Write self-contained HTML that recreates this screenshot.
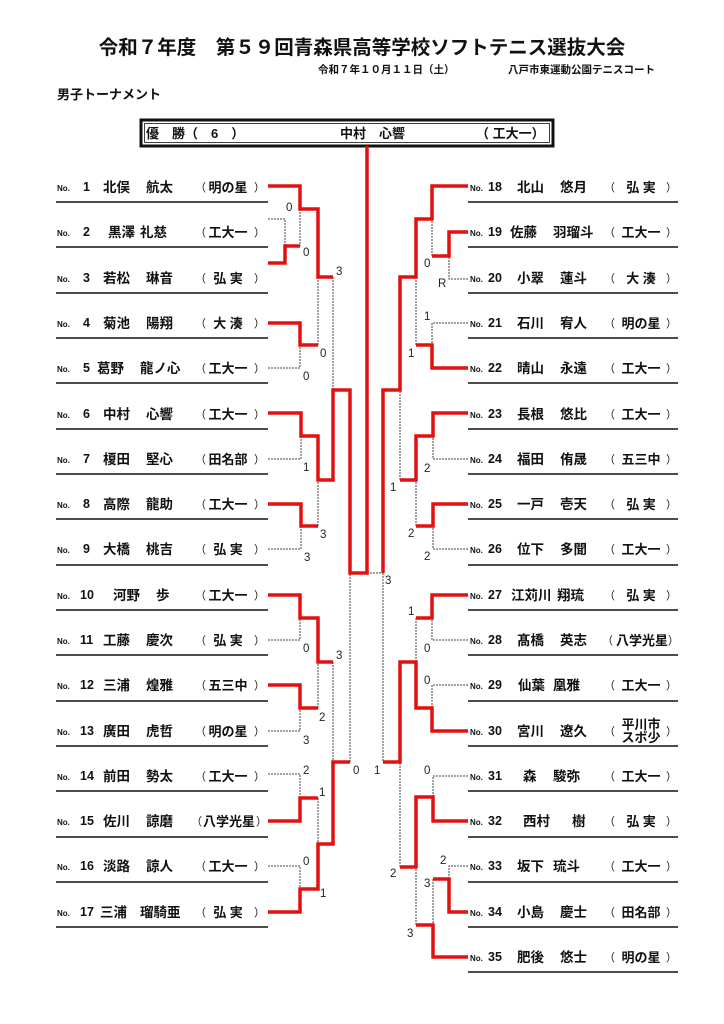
<!DOCTYPE html>
<html><head><meta charset="utf-8"><style>
html,body{margin:0;padding:0;background:#fff;}
svg{display:block;font-family:"Liberation Sans","Noto Sans CJK JP",sans-serif;}
.t{font-weight:bold;fill:#111;}
.nm{font-size:13.5px;font-weight:bold;fill:#111;}
.no{font-size:8px;font-weight:bold;fill:#111;}
.num{font-size:12.5px;font-weight:bold;fill:#111;}
.sc{font-size:13px;font-weight:bold;fill:#111;}
.p{font-size:11px;fill:#111;}
.s{font-size:11.5px;fill:#222;}
.r{fill:none;stroke:#e31010;stroke-width:3.5;stroke-linejoin:miter;}
.d{fill:none;stroke:#444;stroke-width:1;stroke-dasharray:2,1;}
.u{stroke:#111;stroke-width:1.5;}
</style></head><body>
<svg width="724" height="1024" viewBox="0 0 724 1024" xmlns="http://www.w3.org/2000/svg">
<text x="362" y="54" text-anchor="middle" class="t" font-size="19.5">令和７年度　第５９回青森県高等学校ソフトテニス選抜大会</text>
<text x="318" y="73" class="t" font-size="10.5">令和７年１０月１１日（土）</text>
<text x="508" y="73" class="t" font-size="10.5">八戸市東運動公園テニスコート</text>
<text x="57" y="99" class="t" font-size="13">男子トーナメント</text>
<rect x="141" y="120" width="412" height="26" fill="none" stroke="#111" stroke-width="3"/>
<rect x="144.5" y="123.5" width="405" height="19" fill="none" stroke="#111" stroke-width="0.8"/>
<text x="146" y="138" class="t" font-size="13">優　勝（　6　）</text>
<text x="340" y="138" class="t" font-size="13">中村　心響</text>
<text x="476" y="138" class="t" font-size="13">（ 工大一）</text>

<g id="left">
<g class="u">
<line x1="56" y1="202" x2="268" y2="202"/><line x1="56" y1="247" x2="268" y2="247"/><line x1="56" y1="293" x2="268" y2="293"/><line x1="56" y1="338" x2="268" y2="338"/><line x1="56" y1="383" x2="268" y2="383"/><line x1="56" y1="429" x2="268" y2="429"/><line x1="56" y1="474" x2="268" y2="474"/><line x1="56" y1="519" x2="268" y2="519"/><line x1="56" y1="565" x2="268" y2="565"/><line x1="56" y1="610" x2="268" y2="610"/><line x1="56" y1="655" x2="268" y2="655"/><line x1="56" y1="701" x2="268" y2="701"/><line x1="56" y1="746" x2="268" y2="746"/><line x1="56" y1="791" x2="268" y2="791"/><line x1="56" y1="837" x2="268" y2="837"/><line x1="56" y1="882" x2="268" y2="882"/><line x1="56" y1="927" x2="268" y2="927"/>
<line x1="468" y1="202" x2="678" y2="202"/><line x1="468" y1="247" x2="678" y2="247"/><line x1="468" y1="293" x2="678" y2="293"/><line x1="468" y1="338" x2="678" y2="338"/><line x1="468" y1="383" x2="678" y2="383"/><line x1="468" y1="429" x2="678" y2="429"/><line x1="468" y1="474" x2="678" y2="474"/><line x1="468" y1="519" x2="678" y2="519"/><line x1="468" y1="565" x2="678" y2="565"/><line x1="468" y1="610" x2="678" y2="610"/><line x1="468" y1="655" x2="678" y2="655"/><line x1="468" y1="701" x2="678" y2="701"/><line x1="468" y1="746" x2="678" y2="746"/><line x1="468" y1="791" x2="678" y2="791"/><line x1="468" y1="837" x2="678" y2="837"/><line x1="468" y1="882" x2="678" y2="882"/><line x1="468" y1="927" x2="678" y2="927"/><line x1="468" y1="972" x2="678" y2="972"/>
</g>
</g>

<!-- left entries -->
<g>
<text x="57" y="191" class="no">No.</text><text x="83" y="191" class="num">1</text><text x="103" y="192" class="nm">北俣</text><text x="146" y="192" class="nm">航太</text><text x="195" y="191" class="p">（</text><text x="228" y="192" text-anchor="middle" class="sc">明の星</text><text x="254" y="191" class="p">）</text>
<text x="57" y="236" class="no">No.</text><text x="83" y="236" class="num">2</text><text x="108" y="237" class="nm">黒澤</text><text x="140" y="237" class="nm">礼慈</text><text x="195" y="236" class="p">（</text><text x="228" y="237" text-anchor="middle" class="sc">工大一</text><text x="254" y="236" class="p">）</text>
<text x="57" y="282" class="no">No.</text><text x="83" y="282" class="num">3</text><text x="103" y="283" class="nm">若松</text><text x="146" y="283" class="nm">琳音</text><text x="195" y="282" class="p">（</text><text x="228" y="283" text-anchor="middle" class="sc">弘 実</text><text x="254" y="282" class="p">）</text>
<text x="57" y="327" class="no">No.</text><text x="83" y="327" class="num">4</text><text x="103" y="328" class="nm">菊池</text><text x="146" y="328" class="nm">陽翔</text><text x="195" y="327" class="p">（</text><text x="228" y="328" text-anchor="middle" class="sc">大 湊</text><text x="254" y="327" class="p">）</text>
<text x="57" y="372" class="no">No.</text><text x="83" y="372" class="num">5</text><text x="97" y="373" class="nm">葛野</text><text x="140" y="373" class="nm">龍ノ心</text><text x="195" y="372" class="p">（</text><text x="228" y="373" text-anchor="middle" class="sc">工大一</text><text x="254" y="372" class="p">）</text>
<text x="57" y="418" class="no">No.</text><text x="83" y="418" class="num">6</text><text x="103" y="419" class="nm">中村</text><text x="146" y="419" class="nm">心響</text><text x="195" y="418" class="p">（</text><text x="228" y="419" text-anchor="middle" class="sc">工大一</text><text x="254" y="418" class="p">）</text>
<text x="57" y="463" class="no">No.</text><text x="83" y="463" class="num">7</text><text x="103" y="464" class="nm">榎田</text><text x="146" y="464" class="nm">堅心</text><text x="195" y="463" class="p">（</text><text x="228" y="464" text-anchor="middle" class="sc" font-size="11.5">田名部</text><text x="254" y="463" class="p">）</text>
<text x="57" y="508" class="no">No.</text><text x="83" y="508" class="num">8</text><text x="103" y="509" class="nm">高際</text><text x="146" y="509" class="nm">龍助</text><text x="195" y="508" class="p">（</text><text x="228" y="509" text-anchor="middle" class="sc">工大一</text><text x="254" y="508" class="p">）</text>
<text x="57" y="553" class="no">No.</text><text x="83" y="553" class="num">9</text><text x="103" y="554" class="nm">大橋</text><text x="146" y="554" class="nm">桃吉</text><text x="195" y="553" class="p">（</text><text x="228" y="554" text-anchor="middle" class="sc">弘 実</text><text x="254" y="553" class="p">）</text>
<text x="57" y="599" class="no">No.</text><text x="80" y="599" class="num">10</text><text x="113" y="600" class="nm">河野</text><text x="156" y="600" class="nm">歩</text><text x="195" y="599" class="p">（</text><text x="228" y="600" text-anchor="middle" class="sc">工大一</text><text x="254" y="599" class="p">）</text>
<text x="57" y="644" class="no">No.</text><text x="80" y="644" class="num">11</text><text x="103" y="645" class="nm">工藤</text><text x="146" y="645" class="nm">慶次</text><text x="195" y="644" class="p">（</text><text x="228" y="645" text-anchor="middle" class="sc">弘 実</text><text x="254" y="644" class="p">）</text>
<text x="57" y="689" class="no">No.</text><text x="80" y="689" class="num">12</text><text x="103" y="690" class="nm">三浦</text><text x="146" y="690" class="nm">煌雅</text><text x="195" y="689" class="p">（</text><text x="228" y="690" text-anchor="middle" class="sc">五三中</text><text x="254" y="689" class="p">）</text>
<text x="57" y="735" class="no">No.</text><text x="80" y="735" class="num">13</text><text x="103" y="736" class="nm">廣田</text><text x="146" y="736" class="nm">虎哲</text><text x="195" y="735" class="p">（</text><text x="228" y="736" text-anchor="middle" class="sc">明の星</text><text x="254" y="735" class="p">）</text>
<text x="57" y="780" class="no">No.</text><text x="80" y="780" class="num">14</text><text x="103" y="781" class="nm">前田</text><text x="146" y="781" class="nm">勢太</text><text x="195" y="780" class="p">（</text><text x="228" y="781" text-anchor="middle" class="sc">工大一</text><text x="254" y="780" class="p">）</text>
<text x="57" y="825" class="no">No.</text><text x="80" y="825" class="num">15</text><text x="103" y="826" class="nm">佐川</text><text x="146" y="826" class="nm">諒磨</text><text x="191" y="825" class="p">（</text><text x="229" y="826" text-anchor="middle" class="sc" font-size="12">八学光星</text><text x="256" y="825" class="p">）</text>
<text x="57" y="870" class="no">No.</text><text x="80" y="870" class="num">16</text><text x="103" y="871" class="nm">淡路</text><text x="146" y="871" class="nm">諒人</text><text x="195" y="870" class="p">（</text><text x="228" y="871" text-anchor="middle" class="sc">工大一</text><text x="254" y="870" class="p">）</text>
<text x="57" y="916" class="no">No.</text><text x="80" y="916" class="num">17</text><text x="100" y="917" class="nm">三浦</text><text x="140" y="917" class="nm">瑠騎亜</text><text x="195" y="916" class="p">（</text><text x="228" y="917" text-anchor="middle" class="sc">弘 実</text><text x="254" y="916" class="p">）</text>
</g>

<!-- right entries -->
<g>
<text x="470" y="191" class="no">No.</text><text x="488" y="191" class="num">18</text><text x="517" y="192" class="nm">北山</text><text x="560" y="192" class="nm">悠月</text><text x="604" y="191" class="p">（</text><text x="641" y="192" text-anchor="middle" class="sc">弘 実</text><text x="666" y="191" class="p">）</text>
<text x="470" y="236" class="no">No.</text><text x="488" y="236" class="num">19</text><text x="510" y="237" class="nm">佐藤</text><text x="553" y="237" class="nm">羽瑠斗</text><text x="604" y="236" class="p">（</text><text x="641" y="237" text-anchor="middle" class="sc">工大一</text><text x="666" y="236" class="p">）</text>
<text x="470" y="282" class="no">No.</text><text x="488" y="282" class="num">20</text><text x="517" y="283" class="nm">小翠</text><text x="560" y="283" class="nm">蓮斗</text><text x="604" y="282" class="p">（</text><text x="641" y="283" text-anchor="middle" class="sc">大 湊</text><text x="666" y="282" class="p">）</text>
<text x="470" y="327" class="no">No.</text><text x="488" y="327" class="num">21</text><text x="517" y="328" class="nm">石川</text><text x="560" y="328" class="nm">宥人</text><text x="604" y="327" class="p">（</text><text x="641" y="328" text-anchor="middle" class="sc">明の星</text><text x="666" y="327" class="p">）</text>
<text x="470" y="372" class="no">No.</text><text x="488" y="372" class="num">22</text><text x="517" y="373" class="nm">晴山</text><text x="560" y="373" class="nm">永遠</text><text x="604" y="372" class="p">（</text><text x="641" y="373" text-anchor="middle" class="sc">工大一</text><text x="666" y="372" class="p">）</text>
<text x="470" y="418" class="no">No.</text><text x="488" y="418" class="num">23</text><text x="517" y="419" class="nm">長根</text><text x="560" y="419" class="nm">悠比</text><text x="604" y="418" class="p">（</text><text x="641" y="419" text-anchor="middle" class="sc">工大一</text><text x="666" y="418" class="p">）</text>
<text x="470" y="463" class="no">No.</text><text x="488" y="463" class="num">24</text><text x="517" y="464" class="nm">福田</text><text x="560" y="464" class="nm">侑晟</text><text x="604" y="463" class="p">（</text><text x="641" y="464" text-anchor="middle" class="sc">五三中</text><text x="666" y="463" class="p">）</text>
<text x="470" y="508" class="no">No.</text><text x="488" y="508" class="num">25</text><text x="517" y="509" class="nm">一戸</text><text x="560" y="509" class="nm">壱天</text><text x="604" y="508" class="p">（</text><text x="641" y="509" text-anchor="middle" class="sc">弘 実</text><text x="666" y="508" class="p">）</text>
<text x="470" y="553" class="no">No.</text><text x="488" y="553" class="num">26</text><text x="517" y="554" class="nm">位下</text><text x="560" y="554" class="nm">多聞</text><text x="604" y="553" class="p">（</text><text x="641" y="554" text-anchor="middle" class="sc">工大一</text><text x="666" y="553" class="p">）</text>
<text x="470" y="599" class="no">No.</text><text x="488" y="599" class="num">27</text><text x="511" y="600" class="nm">江苅川</text><text x="557" y="600" class="nm">翔琉</text><text x="604" y="599" class="p">（</text><text x="641" y="600" text-anchor="middle" class="sc">弘 実</text><text x="666" y="599" class="p">）</text>
<text x="470" y="644" class="no">No.</text><text x="488" y="644" class="num">28</text><text x="517" y="645" class="nm">髙橋</text><text x="560" y="645" class="nm">英志</text><text x="602" y="644" class="p">（</text><text x="642" y="645" text-anchor="middle" class="sc" font-size="12">八学光星</text><text x="668" y="644" class="p">）</text>
<text x="470" y="689" class="no">No.</text><text x="488" y="689" class="num">29</text><text x="518" y="690" class="nm">仙葉</text><text x="553" y="690" class="nm">凰雅</text><text x="604" y="689" class="p">（</text><text x="641" y="690" text-anchor="middle" class="sc">工大一</text><text x="666" y="689" class="p">）</text>
<text x="470" y="735" class="no">No.</text><text x="488" y="735" class="num">30</text><text x="517" y="736" class="nm">宮川</text><text x="560" y="736" class="nm">遼久</text><text x="604" y="735" class="p">（</text><text x="641" y="729" text-anchor="middle" class="sc" font-size="10.5">平川市</text><text x="641" y="742" text-anchor="middle" class="sc" font-size="10.5">スポ少</text><text x="666" y="735" class="p">）</text>
<text x="470" y="780" class="no">No.</text><text x="488" y="780" class="num">31</text><text x="523" y="781" class="nm">森</text><text x="553" y="781" class="nm">駿弥</text><text x="604" y="780" class="p">（</text><text x="641" y="781" text-anchor="middle" class="sc">工大一</text><text x="666" y="780" class="p">）</text>
<text x="470" y="825" class="no">No.</text><text x="488" y="825" class="num">32</text><text x="523" y="826" class="nm">西村</text><text x="572" y="826" class="nm">樹</text><text x="604" y="825" class="p">（</text><text x="641" y="826" text-anchor="middle" class="sc">弘 実</text><text x="666" y="825" class="p">）</text>
<text x="470" y="870" class="no">No.</text><text x="488" y="870" class="num">33</text><text x="517" y="871" class="nm">坂下</text><text x="553" y="871" class="nm">琉斗</text><text x="604" y="870" class="p">（</text><text x="641" y="871" text-anchor="middle" class="sc">工大一</text><text x="666" y="870" class="p">）</text>
<text x="470" y="916" class="no">No.</text><text x="488" y="916" class="num">34</text><text x="517" y="917" class="nm">小島</text><text x="560" y="917" class="nm">慶士</text><text x="604" y="916" class="p">（</text><text x="641" y="917" text-anchor="middle" class="sc" font-size="11.5">田名部</text><text x="666" y="916" class="p">）</text>
<text x="470" y="961" class="no">No.</text><text x="488" y="961" class="num">35</text><text x="517" y="962" class="nm">肥後</text><text x="560" y="962" class="nm">悠士</text><text x="604" y="961" class="p">（</text><text x="641" y="962" text-anchor="middle" class="sc">明の星</text><text x="666" y="961" class="p">）</text>
</g>

<!-- dotted lines -->
<g class="d">
<polyline points="268,219 285,219 285,246"/>
<polyline points="300,209 300,246"/>
<polyline points="268,368 300,368 300,345"/>
<polyline points="318,277 318,345"/>
<polyline points="268,459 301,459 301,436"/>
<polyline points="268,549 301,549 301,526"/>
<polyline points="318,526 318,480"/>
<polyline points="333,277 333,390"/>
<polyline points="268,640 300,640 300,618"/>
<polyline points="268,731 300,731 300,708"/>
<polyline points="318,708 318,662"/>
<polyline points="333,662 333,762"/>
<polyline points="268,774 300,774 300,798"/>
<polyline points="268,866 300,866 300,889"/>
<polyline points="318,798 318,844"/>
<polyline points="350,762 350,573"/>
<polyline points="367,573 383,573"/>
<polyline points="468,279 449,279 449,256"/>
<polyline points="432,256 432,219"/>
<polyline points="468,323 432,323 432,345"/>
<polyline points="416,345 416,277"/>
<polyline points="468,459 433,459 433,436"/>
<polyline points="468,549 433,549 433,526"/>
<polyline points="416,526 416,480"/>
<polyline points="400,480 400,390"/>
<polyline points="383,573 383,762"/>
<polyline points="468,640 432,640 432,618"/>
<polyline points="468,685 432,685 432,708"/>
<polyline points="416,618 416,662"/>
<polyline points="468,776 433,776 433,797"/>
<polyline points="468,866 449,866 449,879"/>
<polyline points="433,879 433,925"/>
<polyline points="416,925 416,867"/>
<polyline points="400,867 400,762"/>
</g>

<!-- red lines -->
<g class="r">
<polyline points="268,186 300,186 300,209 318,209 318,277 333,277"/>
<polyline points="268,263 285,263 285,246 300,246"/>
<polyline points="268,323 300,323 300,345 318,345"/>
<polyline points="268,413 301,413 301,436 318,436 318,480 333,480 333,390 350,390 350,573 367,573 367,146"/>
<polyline points="268,504 301,504 301,526 318,526"/>
<polyline points="268,595 300,595 300,618 318,618 318,662 333,662"/>
<polyline points="268,685 300,685 300,708 318,708"/>
<polyline points="268,821 300,821 300,798 318,798"/>
<polyline points="268,912 300,912 300,889 318,889 318,844 333,844 333,762 350,762"/>
<polyline points="468,186 432,186 432,219 416,219 416,277 400,277 400,390 383,390 383,573"/>
<polyline points="468,232 449,232 449,256 432,256"/>
<polyline points="468,368 432,368 432,345 416,345"/>
<polyline points="468,413 433,413 433,436 416,436 416,480 400,480"/>
<polyline points="468,504 433,504 433,526 416,526"/>
<polyline points="468,595 432,595 432,618 416,618"/>
<polyline points="468,731 432,731 432,708 416,708 416,662 400,662 400,762 383,762"/>
<polyline points="468,821 433,821 433,797 416,797 416,867 400,867"/>
<polyline points="468,912 449,912 449,879 433,879"/>
<polyline points="468,957 433,957 433,925 416,925"/>
</g>

<!-- scores -->
<g class="s">
<text x="286" y="211">0</text><text x="303" y="256">0</text><text x="336" y="275">3</text><text x="320" y="357">0</text><text x="303" y="380">0</text>
<text x="303" y="471">1</text><text x="320" y="538">3</text><text x="304" y="561">3</text>
<text x="303" y="652">0</text><text x="336" y="659">3</text><text x="319" y="721">2</text><text x="303" y="744">3</text>
<text x="303" y="774">2</text><text x="319" y="796">1</text><text x="303" y="865">0</text><text x="320" y="897">1</text><text x="353" y="774">0</text>
<text x="424" y="267">0</text><text x="438" y="287">R</text><text x="424" y="320">1</text><text x="408" y="357">1</text>
<text x="424" y="472">2</text><text x="390" y="491">1</text><text x="408" y="537">2</text><text x="424" y="560">2</text>
<text x="385" y="584">3</text><text x="408" y="615">1</text><text x="424" y="652">0</text><text x="424" y="684">0</text>
<text x="374" y="774">1</text><text x="424" y="774">0</text><text x="390" y="877">2</text><text x="440" y="864">2</text>
<text x="424" y="887">3</text><text x="407" y="937">3</text>
</g>
</svg>
</body></html>
